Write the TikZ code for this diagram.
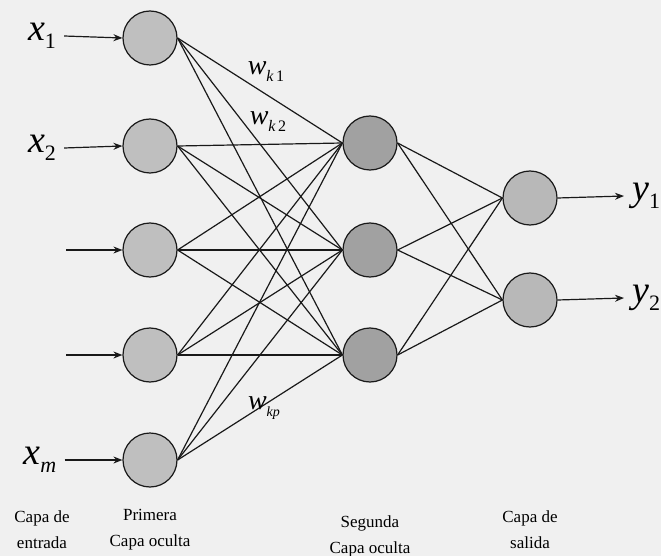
\documentclass[tikz,border=0pt]{standalone}
\usepackage{fontspec}
\setmainfont{LiberationSerif}[Extension=.ttf,UprightFont=*-Regular,ItalicFont=*-Italic,BoldFont=*-Bold]
\usetikzlibrary{arrows.meta}
\begin{document}
\begin{tikzpicture}[x=1pt,y=-1pt,
  neuron/.style={circle,draw=black!90,line width=1.2pt,minimum size=54pt,inner sep=0pt},
  conn/.style={draw=black!90,line width=1.2pt},
  inarrow/.style={draw=black!90,line width=1.2pt,-{Stealth[length=9pt,width=7pt]}},
  biglbl/.style={inner sep=0pt,font=\fontsize{38}{38}\selectfont\itshape},
  wlbl/.style={inner sep=0pt,font=\fontsize{28}{28}\selectfont\itshape},
  laycap/.style={align=center,inner sep=0pt,font=\fontsize{17}{26}\selectfont}]
\fill[black!6] (0,0) rectangle (661,556);
\useasboundingbox (0,0) rectangle (661,556);
% layer 1
\foreach \i/\y in {1/38,2/146,3/250,4/355,5/460}
  \node[neuron,fill=black!25] (a\i) at (150,\y) {};
% layer 2
\foreach \i/\y in {1/143,2/250,3/355}
  \node[neuron,fill=black!37] (b\i) at (370,\y) {};
% layer 3
\foreach \i/\y in {1/198,2/300}
  \node[neuron,fill=black!28] (c\i) at (530,\y) {};
% connections
\foreach \i in {1,...,5}
  \foreach \j in {1,2,3}
    \draw[conn] (a\i.east) -- (b\j.west);
\foreach \j in {1,2,3}
  \foreach \k in {1,2}
    \draw[conn] (b\j.east) -- (c\k.west);
% inputs
\node[biglbl] (x1) at (42,36) {x\raisebox{-0.22em}{\fontsize{22}{22}\selectfont\upshape 1}};
\node[biglbl] (x2) at (42,148) {x\raisebox{-0.22em}{\fontsize{22}{22}\selectfont\upshape 2}};
\node[biglbl] (xm) at (40,460) {x\raisebox{-0.22em}{\fontsize{22}{22}\selectfont m}};
\coordinate (s3) at (66,250);
\coordinate (s4) at (66,355);
\draw[inarrow] (x1.east) ++(8pt,0) -- (a1.west);
\draw[inarrow] (x2.east) ++(8pt,0) -- (a2.west);
\draw[inarrow] (s3) -- (a3.west);
\draw[inarrow] (s4) -- (a4.west);
\draw[inarrow] (xm.east) ++(8pt,0) -- (a5.west);
% outputs
\node[biglbl,anchor=west] (y1) at (632,196) {y\raisebox{-0.22em}{\fontsize{22}{22}\selectfont\upshape 1}};
\node[biglbl,anchor=west] (y2) at (632,298) {y\raisebox{-0.22em}{\fontsize{22}{22}\selectfont\upshape 2}};
\draw[inarrow] (c1.east) -- ([xshift=-8pt]y1.west);
\draw[inarrow] (c2.east) -- ([xshift=-8pt]y2.west);
% weights
\node[wlbl] (wk1) at (266,72) {w\raisebox{-0.25em}{\fontsize{16}{16}\selectfont k\upshape\,1}};
\node[wlbl] (wk2) at (268,122) {w\raisebox{-0.25em}{\fontsize{16}{16}\selectfont k\upshape\,2}};
\node[wlbl] (wkp) at (264,408) {w\raisebox{-0.25em}{\fontsize{14}{14}\selectfont kp}};
% captions
\node[laycap] (l1) at (42,530) {Capa de\\entrada};
\node[laycap] (l2) at (150,530) {Primera\\Capa oculta};
\node[laycap] (l3) at (370,536) {Segunda\\Capa oculta};
\node[laycap] (l4) at (530,530) {Capa de\\salida};
\end{tikzpicture}
\end{document}
